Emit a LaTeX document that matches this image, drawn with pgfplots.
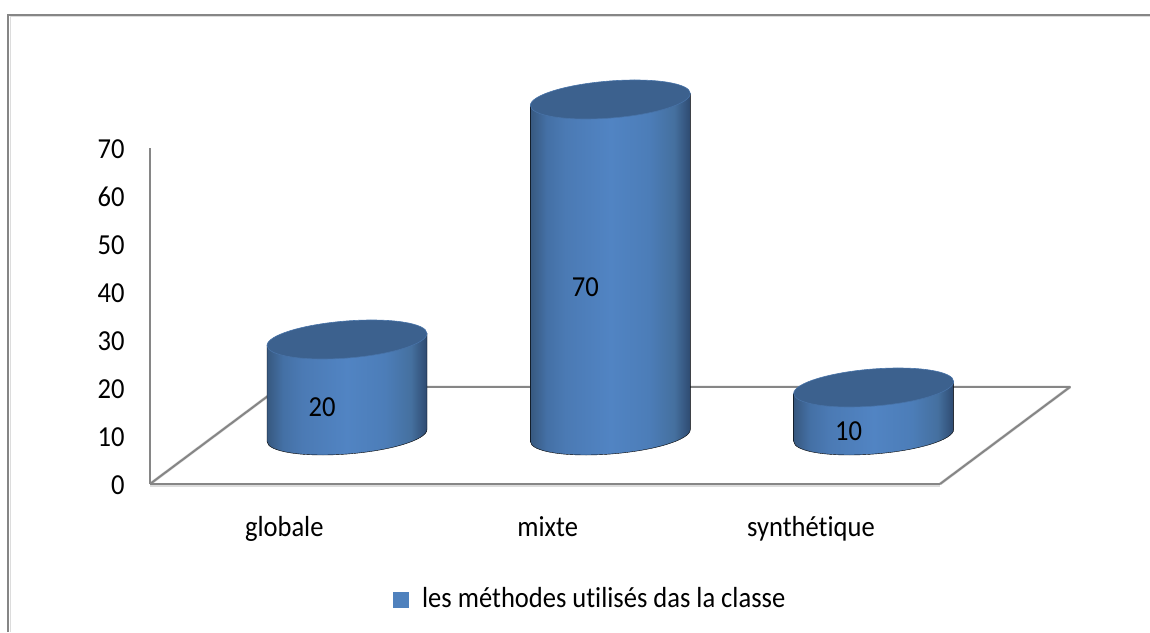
\documentclass[border=0pt]{standalone}
\usepackage{fontspec}
\setmainfont[FakeStretch=0.915,Ligatures=NoCommon]{Carlito}
\usepackage{pgfplots}
\pgfplotsset{compat=1.18}
\usepackage{pgfplotstable}
\definecolor{framegray}{HTML}{868686}
\definecolor{shadowgray}{HTML}{DCDCDC}
\definecolor{barblue}{HTML}{4F81BD}
\definecolor{topblue}{HTML}{3C618E}
\definecolor{rimblue}{HTML}{4873A8}
\definecolor{cA}{HTML}{37587F}
\definecolor{cB}{HTML}{4470A5}
\definecolor{cC}{HTML}{4B7AB4}
\definecolor{cD}{HTML}{5184C3}
\definecolor{cE}{HTML}{4C7DB8}
\definecolor{cF}{HTML}{45709F}
\definecolor{cG}{HTML}{2E4A70}
\pgfdeclarehorizontalshading{cylbody}{100bp}{%
  color(0bp)=(cA); color(25bp)=(cA); color(30bp)=(cB); color(36bp)=(cC);
  color(50bp)=(cD); color(62bp)=(cE); color(70bp)=(cF); color(75bp)=(cG); color(100bp)=(cG)}
% point on the slanted cylinder: x, y relative to the top centre, in pt
\newcommand\Pt[2]{({(#1)*1pt},{((#2)+0.075*(#1))*1pt})}
\pgfdeclareplotmark{cylbar}{%
  \pgfmathsetmacro{\bodyh}{\val*4.8}%
  \shade[shading=cylbody]
    \Pt{-80}{0} -- \Pt{-80}{-\bodyh}
    .. controls \Pt{-80}{-\bodyh-10.245} and \Pt{-44.18}{-\bodyh-18.55} .. \Pt{0}{-\bodyh-18.55}
    .. controls \Pt{44.18}{-\bodyh-18.55} and \Pt{80}{-\bodyh-10.245} .. \Pt{80}{-\bodyh}
    -- \Pt{80}{0} -- cycle;
  \fill[topblue,draw=rimblue,line width=0.6pt]
    \Pt{-80}{0}
    .. controls \Pt{-80}{-10.245} and \Pt{-44.18}{-18.55} .. \Pt{0}{-18.55}
    .. controls \Pt{44.18}{-18.55} and \Pt{80}{-10.245} .. \Pt{80}{0}
    .. controls \Pt{80}{10.245} and \Pt{44.18}{18.55} .. \Pt{0}{18.55}
    .. controls \Pt{-44.18}{18.55} and \Pt{-80}{10.245} .. \Pt{-80}{0} -- cycle;
}
\pgfplotstableread{
x v
0 20
1 70
2 10
}\methodes
\begin{document}
\begin{tikzpicture}[x=1pt,y=1pt]
\useasboundingbox (0,0) rectangle (1150,632);
% outer frame
\draw[shadowgray,line width=1pt] (10,0) -- (10,615) -- (1150,615);
\draw[framegray,line width=2.4pt] (8,0) -- (8,617) -- (1150,617);
% floor
\draw[shadowgray,line width=1.5pt] (150,146) -- (940,146);
\draw[shadowgray,line width=3pt,line join=round] (150,148) -- (280,245) (1070,245) -- (940,148);
\draw[framegray,line width=2pt,line join=round] (150,148) -- (280,245) -- (1070,245) -- (940,148);
\begin{axis}[
  at={(150pt,148pt)},anchor=south west,
  scale only axis,width=790pt,height=336pt,
  xmin=-0.51,xmax=2.49,ymin=0,ymax=70,
  axis x line*=bottom,axis y line*=left,
  axis line style={-,draw=framegray,line width=2pt},
  xtick={0,1,2},xticklabels={globale,mixte,synthétique},
  ytick={0,10,20,30,40,50,60,70},
  major tick length=0pt,
  tick style={draw=none},
  font=\fontsize{29}{32}\selectfont,
  ticklabel style={/pgf/number format/assume math mode=true},
  xticklabel style={yshift=-29pt},
  yticklabel style={xshift=-22pt,yshift=-1pt},
  clip=false,
  legend image code/.code={\fill[barblue] (0pt,-9pt) rectangle (15pt,6pt);},
  legend style={at={(0.557,-0.339)},anchor=center,draw=none,fill=none,
    font=\fontsize{29}{32}\selectfont,inner sep=0pt,
    /tikz/every odd column/.append style={column sep=12pt}},
]
\addlegendimage{barblue}
\addlegendentry{les méthodes utilisés das la classe}
\end{axis}
\begin{axis}[
  at={(212.7pt,196.5pt)},anchor=south west,
  scale only axis,width=790pt,height=336pt,
  xmin=-0.51,xmax=2.49,ymin=0,ymax=70,
  hide axis,clip=false,
  font=\fontsize{29}{32}\selectfont,
]
\addplot[
  only marks,scatter,mark=cylbar,
  visualization depends on={rawy \as \val},
  point meta=y,
  nodes near coords,
  every node near coord/.append style={black,anchor=center,inner sep=0pt,
    /pgf/number format/assume math mode=true,
    xshift=-25pt,yshift={(-2.4*\val-20)*1pt}},
] table[x=x,y=v]{\methodes};
\end{axis}
\end{tikzpicture}
\end{document}
